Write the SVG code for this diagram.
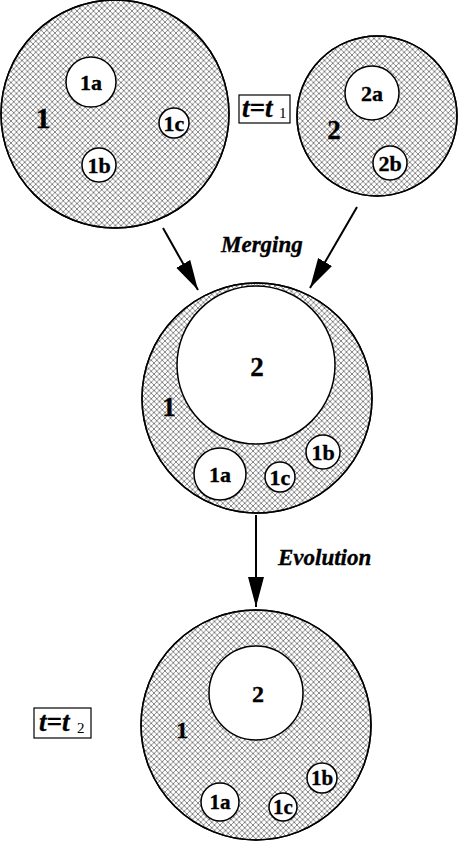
<svg xmlns="http://www.w3.org/2000/svg" width="458" height="842" viewBox="0 0 458 842">
<defs>
<pattern id="hatch" patternUnits="userSpaceOnUse" width="5.5" height="5.5">
<path d="M0,0 L5.5,5.5 M5.5,0 L0,5.5" stroke="#555" stroke-width="0.7" fill="none"/>
</pattern>
<marker id="ah" markerUnits="userSpaceOnUse" markerWidth="32" markerHeight="18" refX="30" refY="8" orient="auto">
<path d="M0,0 L30,8 L0,16 z" fill="#000"/>
</marker>
</defs>
<style>
.outer{fill:#fff;stroke:#000;stroke-width:1.5}
.hat{fill:url(#hatch);stroke:#000;stroke-width:1.5}
.hole{fill:#fff;stroke:#000;stroke-width:1.5}
.lbl{font-family:'Liberation Serif',serif;font-weight:bold;text-anchor:middle;fill:#000;stroke:#000;stroke-width:0.35}
.s{font-size:22px}
.big{font-size:27px}
.it{font-family:'Liberation Serif',serif;font-weight:bold;font-style:italic;fill:#000;stroke:#000;stroke-width:0.35}
.sub{font-family:'Liberation Serif',serif;font-size:15px;fill:#000}
.conn{stroke:#000;stroke-width:2;fill:none;marker-end:url(#ah)}
.box{fill:#fff;stroke:#000;stroke-width:1.2}
</style>
<g id="cell1">
<circle class="outer" cx="115" cy="114" r="114"/>
<circle class="hat" cx="115" cy="114" r="114"/>
<circle class="hole" cx="91" cy="82" r="25"/>
<circle class="hole" cx="174" cy="123" r="15"/>
<circle class="hole" cx="99" cy="165" r="17"/>
<text class="lbl s" x="91" y="90">1a</text>
<text class="lbl s" x="174" y="131">1c</text>
<text class="lbl s" x="99" y="173">1b</text>
<text class="lbl" font-size="30" x="43" y="128">1</text>
</g>
<g id="cell2">
<circle class="outer" cx="377" cy="116" r="80"/>
<circle class="hat" cx="377" cy="116" r="80"/>
<circle class="hole" cx="372" cy="93" r="27"/>
<circle class="hole" cx="390" cy="163" r="17"/>
<text class="lbl s" x="372" y="101">2a</text>
<text class="lbl s" x="390" y="171">2b</text>
<text class="lbl big" x="334" y="139">2</text>
</g>
<g id="label-t1">
<rect class="box" x="239" y="95" width="51" height="28"/>
<text class="it" font-size="27" x="242" y="117">t=t</text>
<text class="sub" x="279" y="118">1</text>
</g>
<g id="merged">
<circle class="outer" cx="257" cy="398" r="115"/>
<circle class="hat" cx="257" cy="398" r="115"/>
<circle class="hole" cx="256" cy="365" r="79"/>
<circle class="hole" cx="220" cy="474" r="26"/>
<circle class="hole" cx="280" cy="477" r="15"/>
<circle class="hole" cx="323" cy="452" r="17"/>
<text class="lbl big" x="257" y="376">2</text>
<text class="lbl big" x="169" y="416">1</text>
<text class="lbl s" x="220" y="482">1a</text>
<text class="lbl s" x="280" y="485">1c</text>
<text class="lbl s" x="323" y="460">1b</text>
</g>
<g id="evolved">
<circle class="outer" cx="256" cy="725" r="115"/>
<circle class="hat" cx="256" cy="725" r="115"/>
<circle class="hole" cx="256" cy="693" r="47"/>
<circle class="hole" cx="220" cy="802" r="19"/>
<circle class="hole" cx="283" cy="807" r="14"/>
<circle class="hole" cx="322" cy="778" r="15"/>
<text class="lbl" font-size="24" x="258" y="702">2</text>
<text class="lbl" font-size="24" x="182" y="738">1</text>
<text class="lbl" font-size="21" x="220" y="809">1a</text>
<text class="lbl" font-size="21" x="283" y="814">1c</text>
<text class="lbl" font-size="21" x="322" y="785">1b</text>
</g>
<g id="label-t2">
<rect class="box" x="34" y="708" width="57" height="30"/>
<text class="it" font-size="27" x="39" y="731">t=t</text>
<text class="sub" x="77" y="733">2</text>
</g>
<g id="connectors">
<line class="conn" x1="163" y1="228" x2="198" y2="290"/>
<line class="conn" x1="357" y1="207" x2="310" y2="288"/>
<line class="conn" x1="256" y1="515" x2="256" y2="607"/>
<text class="it" font-size="23" x="221" y="252">Merging</text>
<text class="it" font-size="23" x="278" y="565">Evolution</text>
</g>
</svg>
